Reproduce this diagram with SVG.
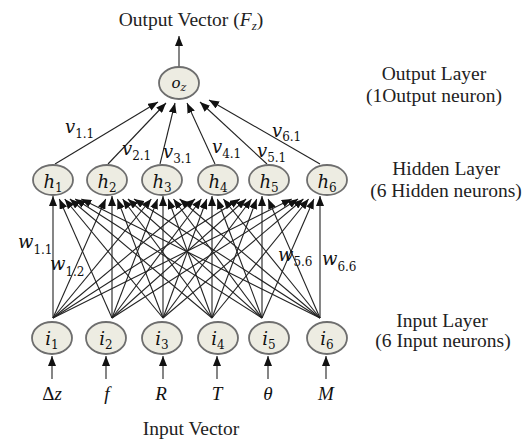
<svg xmlns="http://www.w3.org/2000/svg" width="528" height="441" viewBox="0 0 528 441">
<defs>
<marker id="ah" markerUnits="userSpaceOnUse" markerWidth="10" markerHeight="8" refX="10" refY="4" orient="auto">
<path d="M0,0 L10,4 L0,8 z" fill="#111"/>
</marker>
<style>
.node ellipse{fill:#edece2;stroke:#6e6e6e;stroke-width:1.8}
#connectors line{stroke:#222;stroke-width:1.1;marker-end:url(#ah)}
.t{font-family:"Liberation Serif","Times New Roman",serif;font-size:19.5px;fill:#222;text-anchor:middle}
.m{font-family:"DejaVu Serif",serif;font-style:italic;fill:#111}
.s{font-style:normal}
.var{font-family:"Liberation Serif","Times New Roman",serif;font-size:19px;font-style:italic;fill:#111;text-anchor:middle}
</style>
</defs>
<rect width="528" height="441" fill="#ffffff"/>

<g id="connectors">
<line x1="179" y1="67" x2="179" y2="36"/>
<line x1="55" y1="164" x2="158" y2="102"/>
<line x1="108" y1="164" x2="166" y2="103"/>
<line x1="160" y1="164" x2="175" y2="103"/>
<line x1="215" y1="164" x2="187" y2="103"/>
<line x1="267" y1="164" x2="200" y2="102"/>
<line x1="320" y1="164" x2="209" y2="100"/>
<line x1="53" y1="318" x2="53" y2="196"/>
<line x1="53" y1="318" x2="105.7" y2="199"/>
<line x1="53" y1="318" x2="151.3" y2="199"/>
<line x1="53" y1="318" x2="195.1" y2="199"/>
<line x1="53" y1="318" x2="239.8" y2="199"/>
<line x1="53" y1="318" x2="291.7" y2="199"/>
<line x1="112" y1="318" x2="59.3" y2="199"/>
<line x1="112" y1="318" x2="112" y2="196"/>
<line x1="112" y1="318" x2="157.6" y2="199"/>
<line x1="112" y1="318" x2="201.4" y2="199"/>
<line x1="112" y1="318" x2="246.1" y2="199"/>
<line x1="112" y1="318" x2="298" y2="199"/>
<line x1="163" y1="318" x2="64.7" y2="199"/>
<line x1="163" y1="318" x2="117.4" y2="199"/>
<line x1="163" y1="318" x2="163" y2="196"/>
<line x1="163" y1="318" x2="206.8" y2="199"/>
<line x1="163" y1="318" x2="251.5" y2="199"/>
<line x1="163" y1="318" x2="303.4" y2="199"/>
<line x1="212" y1="318" x2="69.9" y2="199"/>
<line x1="212" y1="318" x2="122.6" y2="199"/>
<line x1="212" y1="318" x2="168.2" y2="199"/>
<line x1="212" y1="318" x2="212" y2="196"/>
<line x1="212" y1="318" x2="256.7" y2="199"/>
<line x1="212" y1="318" x2="308.6" y2="199"/>
<line x1="262" y1="318" x2="75.2" y2="199"/>
<line x1="262" y1="318" x2="127.9" y2="199"/>
<line x1="262" y1="318" x2="173.5" y2="199"/>
<line x1="262" y1="318" x2="217.3" y2="199"/>
<line x1="262" y1="318" x2="262" y2="196"/>
<line x1="262" y1="318" x2="313.9" y2="199"/>
<line x1="320" y1="318" x2="81.3" y2="199"/>
<line x1="320" y1="318" x2="134" y2="199"/>
<line x1="320" y1="318" x2="179.6" y2="199"/>
<line x1="320" y1="318" x2="223.4" y2="199"/>
<line x1="320" y1="318" x2="268.1" y2="199"/>
<line x1="320" y1="318" x2="320" y2="196"/>
<line x1="52" y1="379" x2="52" y2="356"/>
<line x1="106" y1="379" x2="106" y2="356"/>
<line x1="163" y1="379" x2="163" y2="356"/>
<line x1="217" y1="379" x2="217" y2="356"/>
<line x1="268" y1="379" x2="268" y2="356"/>
<line x1="326" y1="379" x2="326" y2="356"/>
</g>

<g id="node-oz" class="node">
<ellipse cx="179" cy="83" rx="20" ry="16"/>
<text class="m" x="179" y="88" font-size="15" text-anchor="middle">o<tspan dy="3" font-size="11">z</tspan></text>
</g>

<g id="node-h1" class="node"><ellipse cx="53" cy="180" rx="20" ry="15"/><text class="m" x="53" y="188" font-size="18" text-anchor="middle">h<tspan class="s" dy="4" font-size="12">1</tspan></text></g>
<g id="node-h2" class="node"><ellipse cx="107" cy="180" rx="20" ry="15"/><text class="m" x="107" y="188" font-size="18" text-anchor="middle">h<tspan class="s" dy="4" font-size="12">2</tspan></text></g>
<g id="node-h3" class="node"><ellipse cx="162" cy="180" rx="20" ry="15"/><text class="m" x="162" y="188" font-size="18" text-anchor="middle">h<tspan class="s" dy="4" font-size="12">3</tspan></text></g>
<g id="node-h4" class="node"><ellipse cx="218" cy="180" rx="20" ry="15"/><text class="m" x="218" y="188" font-size="18" text-anchor="middle">h<tspan class="s" dy="4" font-size="12">4</tspan></text></g>
<g id="node-h5" class="node"><ellipse cx="269" cy="180" rx="20" ry="15"/><text class="m" x="269" y="188" font-size="18" text-anchor="middle">h<tspan class="s" dy="4" font-size="12">5</tspan></text></g>
<g id="node-h6" class="node"><ellipse cx="327" cy="180" rx="20" ry="15"/><text class="m" x="327" y="188" font-size="18" text-anchor="middle">h<tspan class="s" dy="4" font-size="12">6</tspan></text></g>

<g id="node-i1" class="node"><ellipse cx="52" cy="338" rx="20" ry="16"/><text class="m" x="52" y="345" font-size="18" text-anchor="middle">i<tspan class="s" dy="4" font-size="12">1</tspan></text></g>
<g id="node-i2" class="node"><ellipse cx="106" cy="338" rx="20" ry="16"/><text class="m" x="106" y="345" font-size="18" text-anchor="middle">i<tspan class="s" dy="4" font-size="12">2</tspan></text></g>
<g id="node-i3" class="node"><ellipse cx="162" cy="338" rx="20" ry="16"/><text class="m" x="162" y="345" font-size="18" text-anchor="middle">i<tspan class="s" dy="4" font-size="12">3</tspan></text></g>
<g id="node-i4" class="node"><ellipse cx="218" cy="338" rx="20" ry="16"/><text class="m" x="218" y="345" font-size="18" text-anchor="middle">i<tspan class="s" dy="4" font-size="12">4</tspan></text></g>
<g id="node-i5" class="node"><ellipse cx="269" cy="338" rx="20" ry="16"/><text class="m" x="269" y="345" font-size="18" text-anchor="middle">i<tspan class="s" dy="4" font-size="12">5</tspan></text></g>
<g id="node-i6" class="node"><ellipse cx="327" cy="338" rx="20" ry="16"/><text class="m" x="327" y="345" font-size="18" text-anchor="middle">i<tspan class="s" dy="4" font-size="12">6</tspan></text></g>

<g id="weight-labels">
<text class="m" x="65" y="133" font-size="18">v<tspan class="s" dy="5" font-size="12">1.1</tspan></text>
<text class="m" x="122" y="155" font-size="18">v<tspan class="s" dy="5" font-size="12">2.1</tspan></text>
<text class="m" x="163" y="158" font-size="18">v<tspan class="s" dy="5" font-size="12">3.1</tspan></text>
<text class="m" x="212" y="153" font-size="18">v<tspan class="s" dy="5" font-size="12">4.1</tspan></text>
<text class="m" x="257" y="157" font-size="18">v<tspan class="s" dy="5" font-size="12">5.1</tspan></text>
<text class="m" x="272" y="137" font-size="18">v<tspan class="s" dy="4" font-size="12">6.1</tspan></text>
<text class="m" x="18" y="248" font-size="18">w<tspan class="s" dy="6" font-size="12">1.1</tspan></text>
<text class="m" x="50" y="270" font-size="18">w<tspan class="s" dy="6" font-size="12">1.2</tspan></text>
<text class="m" x="278" y="261" font-size="18">w<tspan class="s" dy="5" font-size="12">5.6</tspan></text>
<text class="m" x="322" y="265" font-size="18">w<tspan class="s" dy="6" font-size="12">6.6</tspan></text>
</g>

<g id="labels">
<text class="t" x="191" y="26">Output Vector (<tspan font-style="italic">F</tspan><tspan font-style="italic" font-size="13" dy="4">z</tspan><tspan dy="-4">)</tspan></text>
<text class="var" x="52" y="400"><tspan font-style="normal">Δ</tspan>z</text>
<text class="var" x="107" y="400">f</text>
<text class="var" x="161" y="400">R</text>
<text class="var" x="217" y="400">T</text>
<text class="var" x="268" y="400">θ</text>
<text class="var" x="326" y="400">M</text>
<text class="t" x="191" y="435">Input Vector</text>
<text class="t" x="434" y="80">Output Layer</text>
<text class="t" x="434" y="102">(1Output neuron)</text>
<text class="t" x="446" y="175">Hidden Layer</text>
<text class="t" x="446" y="197">(6 Hidden neurons)</text>
<text class="t" x="442" y="327">Input Layer</text>
<text class="t" x="443" y="347">(6 Input neurons)</text>
</g>
</svg>
